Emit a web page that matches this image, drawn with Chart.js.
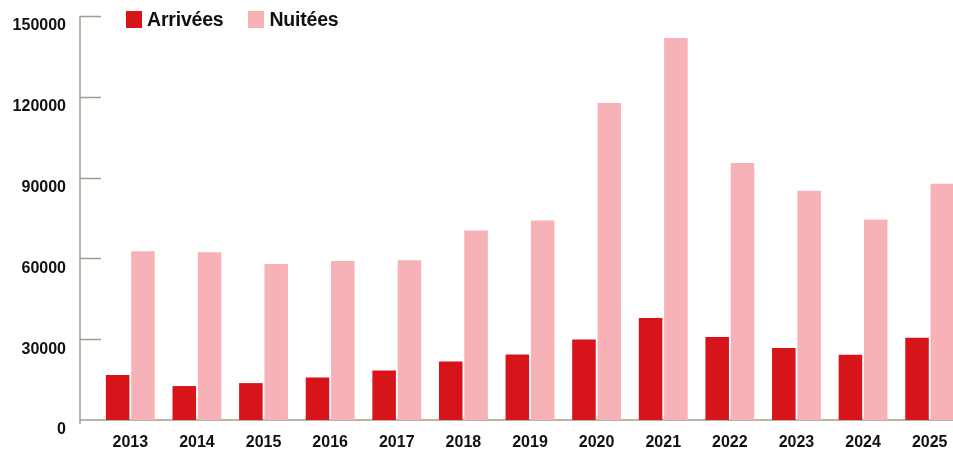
<!DOCTYPE html>
<html>
<head>
<meta charset="utf-8">
<title>Arrivées et Nuitées</title>
<script src="https://cdn.jsdelivr.net/npm/chart.js@4"></script>
<style>
  html, body { margin: 0; padding: 0; background: #fff; overflow: hidden; }
  #wrap { position: relative; width: 963px; height: 449px; }
  #legend { position: absolute; left: 126px; top: 8px; display: flex; font-family: 'Liberation Sans', Arial, sans-serif; font-weight: bold; font-size: 19.5px; color: #111; letter-spacing: -0.2px; }
  #legend span.item { display: flex; align-items: center; margin-right: 25px; }
  #legend span.box { display: inline-block; width: 16px; height: 17px; margin-right: 5px; }
</style>
</head>
<body>
<div id="wrap">
  <canvas id="myChart" width="963" height="449"></canvas>
  <div id="legend"></div>
</div>
<script type="text/javascript">
const YEARS = ['2013', '2014', '2015', '2016', '2017', '2018', '2019', '2020', '2021', '2022', '2023', '2024', '2025'];
const ARRIVEES = [16700, 12600, 13700, 15800, 18400, 21700, 24300, 29900, 37900, 30800, 26700, 24200, 30500];
const NUITEES = [62700, 62300, 57900, 59000, 59300, 70400, 74100, 117700, 141800, 95400, 85100, 74400, 87700];
const Y_TICKS = [0, 30000, 60000, 90000, 120000, 150000];

const RED = '#d7141a';
const PINK = '#f7b2b7';
const AXIS = '#a89a8c';
const FONT = 'Liberation Sans';

// axe gauche + petites graduations vers l'intérieur
const axisPlugin = {
  id: 'axisLines',
  beforeDatasetsDraw(chart) {
    const ctx = chart.ctx;
    const y = chart.scales.y;
    const x0 = 80;
    ctx.save();
    ctx.strokeStyle = AXIS;
    ctx.lineWidth = 1.5;
    ctx.beginPath();
    ctx.moveTo(x0, y.getPixelForValue(150000));
    ctx.lineTo(x0, y.getPixelForValue(0) + 4);
    ctx.moveTo(x0, y.getPixelForValue(0));
    ctx.lineTo(chart.width, y.getPixelForValue(0));
    Y_TICKS.forEach(v => {
      if (v === 0) return;
      const py = Math.round(y.getPixelForValue(v)) + 0.5;
      ctx.moveTo(x0, py);
      ctx.lineTo(101, py);
    });
    ctx.stroke();
    ctx.restore();
  }
};

const ctx = document.getElementById('myChart');
const myChart = new Chart(ctx, {
  type: 'bar',
  data: {
    labels: YEARS,
    datasets: [
      { label: 'Arrivées', data: ARRIVEES, backgroundColor: RED, barPercentage: 0.93, categoryPercentage: 0.76 },
      { label: 'Nuitées', data: NUITEES, backgroundColor: PINK, barPercentage: 0.93, categoryPercentage: 0.76 }
    ]
  },
  options: {
    responsive: false,
    animation: false,
    layout: { padding: { top: 16, right: 0, bottom: 0, left: 0 } },
    plugins: { legend: { display: false }, tooltip: { enabled: false } },
    scales: {
      x: {
        afterFit(scale) { scale.height = 29; scale.paddingLeft = 0; scale.paddingRight = 0; },
        grid: { display: false, drawTicks: false },
        border: { display: false },
        ticks: { color: '#111', padding: 13, font: { family: FONT, weight: 'bold', size: 16 } }
      },
      y: {
        min: 0,
        max: 150000,
        afterFit(scale) { scale.width = 97; scale.paddingTop = 0; scale.paddingBottom = 0; },
        afterBuildTicks(scale) { scale.ticks = Y_TICKS.map(v => ({ value: v })); },
        grid: { display: false, drawTicks: false },
        border: { display: false },
        ticks: {
          color: '#111', padding: 31, labelOffset: 10,
          font: { family: FONT, weight: 'bold', size: 16 },
          callback: v => String(v)
        }
      }
    }
  },
  plugins: [axisPlugin]
});

// légende HTML
const legend = document.getElementById('legend');
myChart.data.datasets.forEach(ds => {
  const item = document.createElement('span');
  item.className = 'item';
  const box = document.createElement('span');
  box.className = 'box';
  box.style.background = ds.backgroundColor;
  item.appendChild(box);
  item.appendChild(document.createTextNode(ds.label));
  legend.appendChild(item);
});
</script>
</body>
</html>
